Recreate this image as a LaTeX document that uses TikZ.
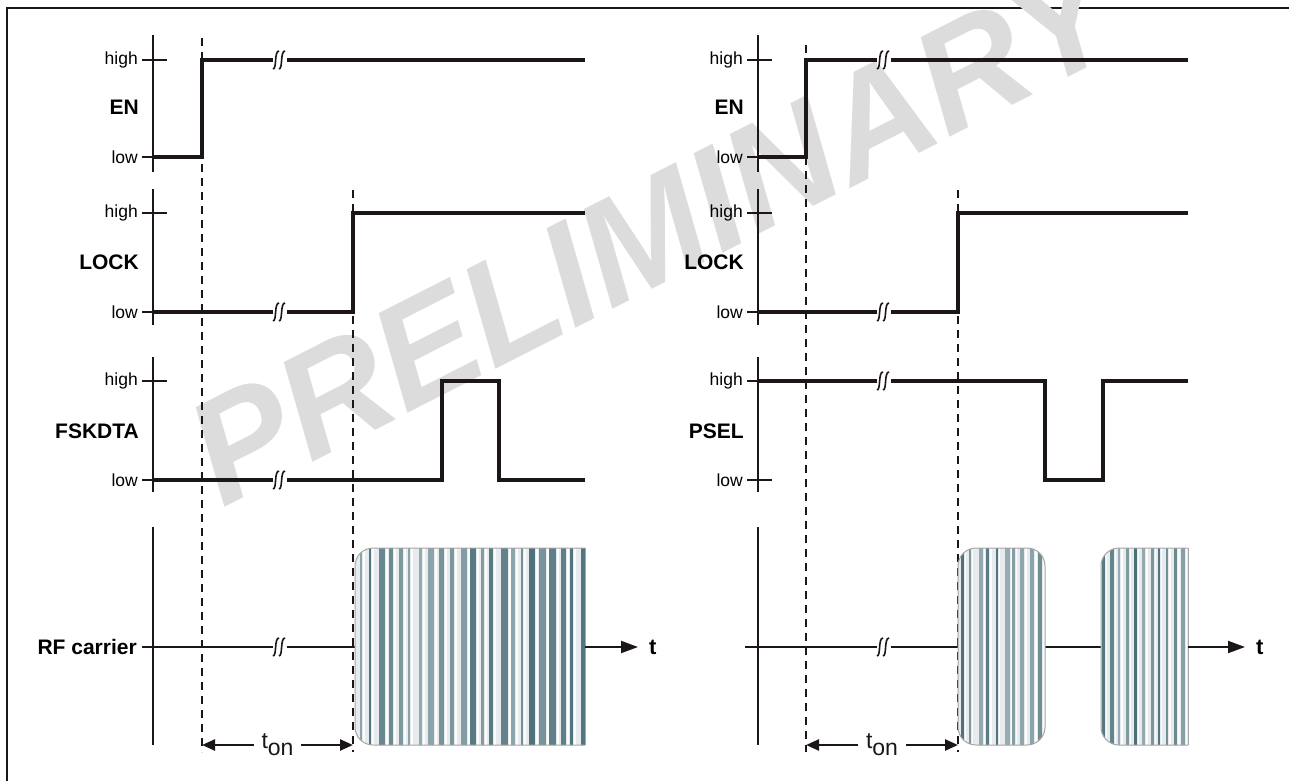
\documentclass[tikz,border=0pt]{standalone}
\usepackage{fontspec}
\setmainfont{Liberation Sans}
\usetikzlibrary{arrows.meta, positioning}
\definecolor{mywm}{RGB}{220,220,220}
\definecolor{mystripe}{RGB}{74,112,122}
\definecolor{mypale}{RGB}{232,235,238}
\definecolor{myedge}{RGB}{165,165,165}
\definecolor{mydark}{RGB}{28,22,22}
\tikzset{
  sigaxis/.style={line width=1.4pt, color=mydark},
  lvltick/.style={line width=1.2pt, color=mydark},
  signal/.style={line width=3.6pt, color=mydark, line join=miter},
  rfline/.style={line width=2pt, color=mydark},
  guide/.style={line width=1.8pt, color=mydark, dash pattern=on 8pt off 6pt},
  level/.style={anchor=east, font=\fontsize{17.5}{20}\selectfont, inner sep=2pt},
  signame/.style={anchor=east, font=\bfseries\fontsize{21}{25}\selectfont, inner sep=0pt},
  tarrow/.style={-{Triangle[length=17pt,width=12pt]}, line width=2pt, color=mydark},
  tonarrow/.style={{Triangle[length=13pt,width=11pt]}-{Triangle[length=13pt,width=11pt]},
    line width=2.4pt, color=mydark},
  tonlabel/.style={fill=white, inner xsep=8pt, inner ysep=0pt, font=\fontsize{23}{26}\selectfont},
  burst/.style={draw=myedge, line width=1pt},
  brk/.pic={
    \fill[white] (-7,-6) rectangle (7,6);
    \draw[line width=1.6pt, mydark] (-7,9) .. controls (-3,9) and (-6,-9) .. (-1,-9);
    \draw[line width=1.6pt, mydark] (-1,9) .. controls (3,9) and (0,-9) .. (5,-9);
  }
}

\begin{document}
\begin{tikzpicture}[x=1pt, y=-1pt]
  \useasboundingbox (0,0) rectangle (1289,781);
  \pgfmathsetseed{7}

  % frame and watermark
  \draw[line width=1.8pt, mydark] (7,781) -- (7,8) -- (1289,8);
  \node[rotate=27, text=mywm, font=\bfseries\itshape\fontsize{148}{148}\selectfont] (wmark) at (652,232) {PRELIMINARY};

  % ---------------- left panel ----------------
  % axes
  \draw[sigaxis] (153,35) -- (153,172);
  \draw[sigaxis] (153,189) -- (153,325);
  \draw[sigaxis] (153,357) -- (153,492);
  \draw[sigaxis] (153,527) -- (153,745);
  \foreach \y in {60,157,213,312,381,480} \draw[lvltick] (142,\y) -- (167,\y);
  \foreach \y/\lv in {60/high,157/low,213/high,312/low,381/high,480/low}
    \node[level] (lvlL\y) at (140,\y) {\lv};

  % signal names
  \node[signame] (enL) at (139,107) {EN};
  \node[signame] (lockL) at (139,262) {LOCK};
  \node[signame] (fskL) at (139,431) {FSKDTA};
  \node[signame] (rfL) at (137,647) {RF carrier};

  % timing guides
  \draw[guide] (202,38) -- (202,752);
  \draw[guide] (353,190) -- (353,752);

  % signals
  \draw[signal] (153,157) -- (202,157) -- (202,60) -- (585,60);
  \draw[signal] (153,312) -- (353,312) -- (353,213) -- (585,213);
  \draw[signal] (153,480) -- (442,480) -- (442,381) -- (499,381) -- (499,480) -- (585,480);
  \draw[rfline] (142,647) -- (355,647);
  \foreach \y in {60,312,480,647} \pic at (280,\y) {brk};

  % carrier burst
  \begin{scope}
    \clip[rounded corners=18pt] (585,548) -- (355,548) -- (355,745) -- (585,745);
    \fill[mypale] (350,540) rectangle (590,750);
    \foreach \k in {0,...,22} {
      \pgfmathsetmacro\sx{357+\k*10.1+3*rnd}
      \pgfmathsetmacro\sw{2+4.5*rnd}
      \pgfmathsetmacro\sa{0.5+0.5*rnd}
      \fill[mystripe, opacity=\sa] (\sx,540) rectangle ++(\sw,210);
      \fill[white, opacity=0.85] (\sx+\sw+1,540) rectangle ++(2,210);
    }
  \end{scope}
  \draw[burst, rounded corners=18pt] (585,548) -- (355,548) -- (355,745) -- (585,745);
  \draw[burst] (585,548) -- (585,745);

  \coordinate (burstLend) at (585,647);
  \coordinate (tipL) at (638,647);
  \draw[tarrow] (burstLend) -- (tipL);
  \node[anchor=west, font=\bfseries\fontsize{22}{25}\selectfont, inner sep=0pt] (tL) at ([xshift=11pt]tipL) {t};

  % t_on
  \coordinate (tonLa) at (202,745);
  \coordinate (tonLb) at (353,745);
  \draw[tonarrow] (tonLa) -- node[tonlabel] (tonLtxt) {t\raisebox{-7pt}{on}} (tonLb);

  % ---------------- right panel ----------------
  % axes
  \draw[sigaxis] (758,35) -- (758,172);
  \draw[sigaxis] (758,189) -- (758,325);
  \draw[sigaxis] (758,357) -- (758,492);
  \draw[sigaxis] (758,527) -- (758,745);
  \foreach \y in {60,157,213,312,381,480} \draw[lvltick] (747,\y) -- (772,\y);
  \foreach \y/\lv in {60/high,157/low,213/high,312/low,381/high,480/low}
    \node[level] (lvlR\y) at (745,\y) {\lv};

  % signal names
  \node[signame] (enR) at (744,107) {EN};
  \node[signame] (lockR) at (744,262) {LOCK};
  \node[signame] (pselR) at (744,431) {PSEL};

  % timing guides
  \draw[guide] (806,45) -- (806,752);
  \draw[guide] (958,190) -- (958,752);

  % signals
  \draw[signal] (758,157) -- (806,157) -- (806,60) -- (1188,60);
  \draw[signal] (758,312) -- (958,312) -- (958,213) -- (1188,213);
  \draw[signal] (758,381) -- (1045,381) -- (1045,480) -- (1103,480) -- (1103,381) -- (1188,381);
  \draw[rfline] (745,647) -- (958,647);
  \draw[rfline] (1045,647) -- (1101,647);
  \foreach \y in {60,312,381,647} \pic at (884,\y) {brk};

  % carrier bursts
  \begin{scope}
    \clip[rounded corners=18pt] (958,548) rectangle (1045,745);
    \fill[mypale] (950,540) rectangle (1050,750);
    \foreach \k in {0,...,9} {
      \pgfmathsetmacro\sx{960+\k*8.6+2*rnd}
      \pgfmathsetmacro\sw{1.5+3.5*rnd}
      \pgfmathsetmacro\sa{0.5+0.5*rnd}
      \fill[mystripe, opacity=\sa] (\sx,540) rectangle ++(\sw,210);
      \fill[white, opacity=0.85] (\sx+\sw+1,540) rectangle ++(1.5,210);
    }
  \end{scope}
  \draw[burst, rounded corners=18pt] (958,548) rectangle (1045,745);

  \begin{scope}
    \clip[rounded corners=18pt] (1188,548) -- (1101,548) -- (1101,745) -- (1188,745);
    \fill[mypale] (1095,540) rectangle (1192,750);
    \foreach \k in {0,...,10} {
      \pgfmathsetmacro\sx{1102+\k*7.9+2*rnd}
      \pgfmathsetmacro\sw{1.5+3.5*rnd}
      \pgfmathsetmacro\sa{0.5+0.5*rnd}
      \fill[mystripe, opacity=\sa] (\sx,540) rectangle ++(\sw,210);
      \fill[white, opacity=0.85] (\sx+\sw+1,540) rectangle ++(1.5,210);
    }
  \end{scope}
  \draw[burst, rounded corners=18pt] (1188,548) -- (1101,548) -- (1101,745) -- (1188,745);
  \draw[burst] (1188,548) -- (1188,745);

  \coordinate (burstRend) at (1188,647);
  \coordinate (tipR) at (1245,647);
  \draw[tarrow] (burstRend) -- (tipR);
  \node[anchor=west, font=\bfseries\fontsize{22}{25}\selectfont, inner sep=0pt] (tR) at ([xshift=11pt]tipR) {t};

  % t_on
  \coordinate (tonRa) at (806,745);
  \coordinate (tonRb) at (958,745);
  \draw[tonarrow] (tonRa) -- node[tonlabel] (tonRtxt) {t\raisebox{-7pt}{on}} (tonRb);
\end{tikzpicture}
\end{document}
